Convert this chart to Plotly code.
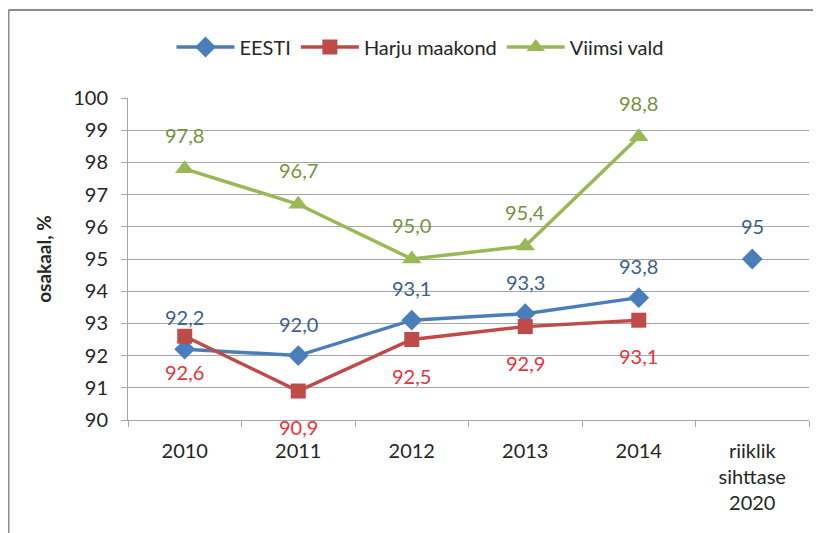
import plotly.graph_objects as go

categories = ["2010", "2011", "2012", "2013", "2014"]
target_category = "riiklik<br>sihttase<br>2020"

eesti = [92.2, 92.0, 93.1, 93.3, 93.8]
harju = [92.6, 90.9, 92.5, 92.9, 93.1]
viimsi = [97.8, 96.7, 95.0, 95.4, 98.8]
eesti_target = 95

y_ticks = [90, 91, 92, 93, 94, 95, 96, 97, 98, 99, 100]


def fmt(values):
    return [f"{v:.1f}".replace(".", ",") for v in values]


font = "Lato, 'Open Sans', sans-serif"
all_categories = categories + [target_category]

fig = go.Figure()

fig.add_trace(go.Scatter(
    name="EESTI", x=categories, y=eesti, mode="lines+markers",
    line=dict(color="#4a7ebb", width=3.5),
    marker=dict(symbol="diamond", size=16, color="#4a7ebb"),
    cliponaxis=False,
))
fig.add_trace(go.Scatter(
    name="Harju maakond", x=categories, y=harju, mode="lines+markers",
    line=dict(color="#be4b48", width=3.5),
    marker=dict(symbol="square", size=15, color="#be4b48"),
    cliponaxis=False,
))
fig.add_trace(go.Scatter(
    name="Viimsi vald", x=categories, y=viimsi, mode="lines+markers",
    line=dict(color="#98b954", width=3.5),
    marker=dict(symbol="triangle-up", size=17, color="#98b954"),
    cliponaxis=False,
))
fig.add_trace(go.Scatter(
    x=[target_category], y=[eesti_target], mode="markers",
    marker=dict(symbol="diamond", size=16, color="#4a7ebb"),
    showlegend=False, cliponaxis=False,
))

# data labels (x given as category index so year strings are not read as numbers)
label_sets = [
    (categories, eesti, fmt(eesti), "#3f5f8c", 32),
    (categories, harju, fmt(harju), "#e8323c", -36),
    (categories, viimsi, fmt(viimsi), "#76923c", 34),
    ([target_category], [eesti_target], [str(eesti_target)], "#3f5f8c", 33),
]
for xs, ys, texts, color, shift in label_sets:
    for xv, yv, t in zip(xs, ys, texts):
        fig.add_annotation(x=all_categories.index(xv), y=yv, text=t, showarrow=False,
                           yshift=shift, font=dict(color=color, size=20, family=font))

# page body adds an 8px offset, so positions below are reference pixels minus 8
L, R, T, B = 120, 20, 90, 121
W, H = 821 - L - R, 533 - T - B
fx = (0.5 - L) / W
fy = (H + T - 2) / H
frame = dict(color="#8c8c8c", width=2)
fig.add_shape(type="line", xref="paper", yref="paper", x0=fx, x1=fx, y0=fy, y1=-1, line=frame)
fig.add_shape(type="line", xref="paper", yref="paper", x0=fx, x1=1.2, y0=fy, y1=fy, line=frame)

fig.update_layout(
    width=821, height=533,
    margin=dict(l=L, r=R, t=T, b=B, autoexpand=False),
    paper_bgcolor="white", plot_bgcolor="white",
    font=dict(family=font, size=20, color="#262626"),
    showlegend=True,
    legend=dict(orientation="h", x=(412 - L) / W, xanchor="center", y=(H + T - 39) / H,
                yanchor="middle", font=dict(size=20), itemwidth=58,
                traceorder="normal"),
    xaxis=dict(
        type="category",
        categoryarray=all_categories,
        range=[-0.5, 5.5], automargin=False,
        showline=True, linecolor="#a6a6a6", linewidth=1,
        ticks="outside", tickson="boundaries", ticklen=6, tickcolor="#a6a6a6",
        ticklabelstandoff=13,
        showgrid=False, tickfont=dict(size=20),
    ),
    yaxis=dict(
        range=[90, 100], tickvals=y_ticks, automargin=False,
        showline=True, linecolor="#a6a6a6", linewidth=1,
        ticks="outside", ticklen=6, tickcolor="#a6a6a6",
        ticklabelstandoff=9,
        showgrid=True, gridcolor="#a6a6a6", gridwidth=1,
        zeroline=False, tickfont=dict(size=20),
        title=dict(text="<b>osakaal, %</b>", font=dict(size=19), standoff=16),
    ),
)

fig.write_html("out.html")
